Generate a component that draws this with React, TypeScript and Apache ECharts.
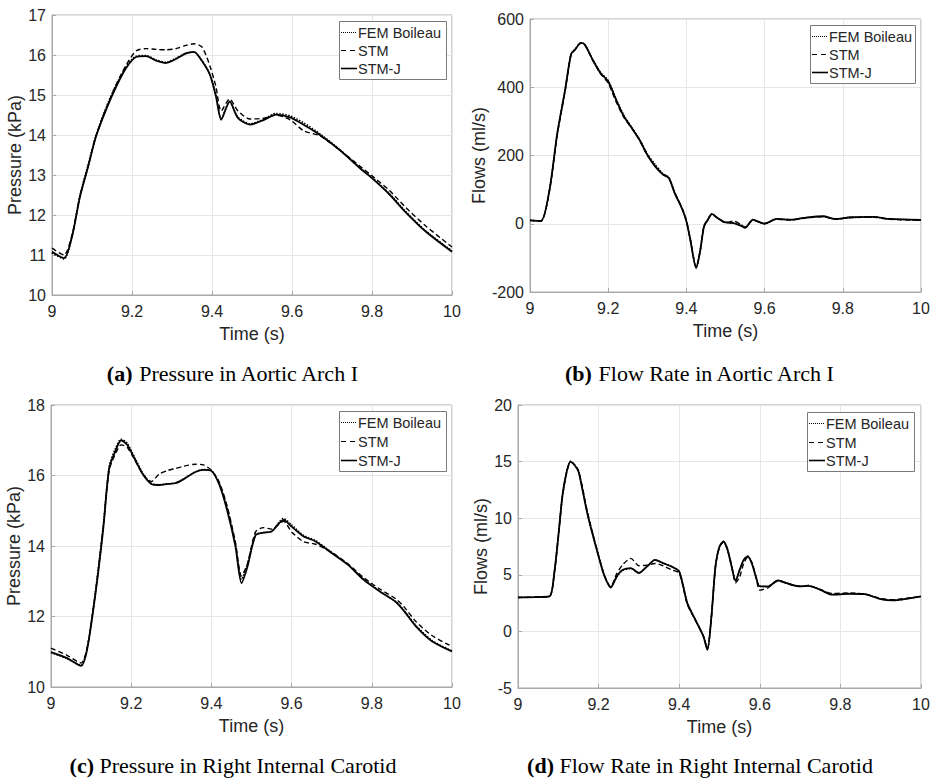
import React, { useEffect, useRef } from "react";
import * as echarts from "echarts";

// ---------- DATA ----------
const seriesNames = ["FEM Boileau", "STM", "STM-J"];

// (a) Pressure in Aortic Arch I
const tA = [9.0, 9.03, 9.05, 9.07, 9.09, 9.11, 9.135, 9.16, 9.185, 9.21, 9.235, 9.26, 9.285, 9.31, 9.335, 9.355, 9.375, 9.395, 9.41, 9.423, 9.444, 9.465, 9.495, 9.53, 9.56, 9.595, 9.63, 9.67, 9.72, 9.77, 9.8, 9.845, 9.885, 9.935, 10.0];
const femA = [11.05, 10.9, 11.45, 12.5, 13.25, 14.0, 14.68, 15.25, 15.7, 15.97, 15.99, 15.88, 15.82, 15.92, 16.05, 16.07, 15.86, 15.52, 15.0, 14.42, 14.82, 14.45, 14.28, 14.4, 14.54, 14.48, 14.3, 14.03, 13.63, 13.18, 12.94, 12.52, 12.08, 11.6, 11.1];
const stmA = [11.17, 11.0, 11.5, 12.48, 13.2, 13.98, 14.66, 15.25, 15.74, 16.1, 16.16, 16.14, 16.13, 16.16, 16.24, 16.28, 16.2, 15.72, 15.2, 14.6, 14.9, 14.6, 14.4, 14.42, 14.5, 14.38, 14.1, 13.98, 13.62, 13.22, 12.98, 12.6, 12.18, 11.72, 11.2];
const stmjA = [11.08, 10.92, 11.46, 12.46, 13.2, 13.96, 14.63, 15.2, 15.67, 15.95, 15.97, 15.86, 15.8, 15.9, 16.04, 16.08, 15.85, 15.5, 14.96, 14.38, 14.84, 14.42, 14.26, 14.38, 14.51, 14.44, 14.25, 14.0, 13.62, 13.17, 12.92, 12.5, 12.06, 11.58, 11.08];

// (b) Flow Rate in Aortic Arch I
const tB = [9.0, 9.028, 9.05, 9.07, 9.09, 9.105, 9.115, 9.13, 9.14, 9.16, 9.18, 9.2, 9.22, 9.24, 9.26, 9.28, 9.3, 9.32, 9.34, 9.355, 9.37, 9.39, 9.4, 9.41, 9.425, 9.435, 9.445, 9.455, 9.465, 9.48, 9.5, 9.52, 9.54, 9.55, 9.57, 9.6, 9.63, 9.67, 9.7, 9.75, 9.78, 9.82, 9.88, 9.92, 10.0];
const femB = [10, 8, 101, 268, 395, 498, 511, 530, 526, 482, 444, 420, 366, 318, 283, 248, 205, 174, 147, 136, 91, 42, 8, -46, -129, -82, -9, 11, 28, 16, 5, 3, -4, -11, 11, 0, 13, 12, 17, 21, 14, 18, 19, 14, 11];
const stmB = [10, 8, 98, 262, 390, 495, 510, 529, 524, 480, 440, 412, 358, 312, 280, 245, 200, 170, 146, 135, 92, 43, 9, -45, -128, -80, -6, 13, 28, 16, 3, 8, -3, -10, 10, 1, 13, 11, 16, 21, 13, 18, 19, 13, 10];
const stmjB = [10, 8, 100, 266, 393, 497, 510, 530, 525, 481, 442, 417, 364, 315, 281, 246, 202, 168, 144, 134, 90, 41, 7, -47, -130, -81, -8, 12, 29, 17, 4, 2, -6, -12, 12, 0, 14, 12, 17, 22, 14, 19, 20, 14, 11];

// (c) Pressure in Right Internal Carotid
const tC = [9.0, 9.04, 9.075, 9.09, 9.11, 9.13, 9.145, 9.16, 9.175, 9.19, 9.21, 9.23, 9.25, 9.27, 9.29, 9.31, 9.33, 9.36, 9.38, 9.4, 9.42, 9.44, 9.46, 9.475, 9.49, 9.51, 9.53, 9.55, 9.58, 9.6, 9.63, 9.66, 9.7, 9.74, 9.78, 9.82, 9.86, 9.88, 9.91, 9.95, 10.0];
const femC = [10.98, 10.8, 10.62, 11.1, 12.65, 14.55, 16.25, 16.75, 17.03, 16.92, 16.48, 16.05, 15.78, 15.74, 15.76, 15.79, 15.9, 16.1, 16.17, 16.14, 15.78, 15.05, 14.05, 13.05, 13.5, 14.32, 14.38, 14.42, 14.78, 14.6, 14.3, 14.15, 13.82, 13.48, 13.06, 12.72, 12.42, 12.18, 11.75, 11.32, 11.02];
const stmC = [11.1, 10.9, 10.68, 11.1, 12.6, 14.5, 16.15, 16.6, 16.87, 16.8, 16.42, 16.02, 15.83, 16.04, 16.14, 16.2, 16.26, 16.32, 16.3, 16.15, 15.8, 15.1, 14.1, 13.15, 13.5, 14.4, 14.52, 14.48, 14.7, 14.4, 14.12, 14.05, 13.82, 13.5, 13.1, 12.78, 12.5, 12.28, 11.86, 11.46, 11.15];
const stmjC = [10.99, 10.82, 10.6, 11.06, 12.57, 14.46, 16.2, 16.68, 17.0, 16.87, 16.44, 16.02, 15.76, 15.73, 15.76, 15.78, 15.89, 16.1, 16.16, 16.13, 15.73, 14.98, 13.99, 12.95, 13.42, 14.3, 14.38, 14.41, 14.74, 14.55, 14.27, 14.13, 13.8, 13.47, 13.04, 12.71, 12.41, 12.16, 11.72, 11.3, 11.01];

// (d) Flow Rate in Right Internal Carotid
const tD = [9.0, 9.04, 9.078, 9.09, 9.1, 9.11, 9.12, 9.13, 9.14, 9.15, 9.16, 9.17, 9.18, 9.2, 9.215, 9.23, 9.245, 9.26, 9.28, 9.3, 9.32, 9.34, 9.36, 9.38, 9.4, 9.42, 9.44, 9.46, 9.47, 9.48, 9.49, 9.5, 9.51, 9.52, 9.53, 9.54, 9.55, 9.56, 9.57, 9.58, 9.59, 9.6, 9.62, 9.645, 9.67, 9.7, 9.72, 9.75, 9.78, 9.82, 9.86, 9.9, 9.93, 9.96, 10.0];
const femD = [3.0, 3.03, 3.1, 5.2, 8.45, 11.95, 14.0, 15.02, 14.75, 14.2, 12.6, 10.85, 9.35, 6.65, 4.9, 3.9, 4.8, 5.4, 5.55, 5.2, 5.7, 6.3, 6.05, 5.75, 5.3, 2.55, 1.05, -0.4, -1.6, 1.4, 5.8, 7.5, 7.95, 7.25, 5.8, 4.5, 5.4, 6.3, 6.65, 6.1, 4.9, 4.0, 3.95, 4.5, 4.25, 4.0, 4.05, 3.7, 3.25, 3.35, 3.3, 2.85, 2.75, 2.85, 3.1];
const stmD = [3.0, 3.03, 3.09, 5.1, 8.3, 11.8, 13.9, 14.95, 14.75, 14.2, 12.7, 10.9, 9.4, 6.7, 4.9, 3.95, 5.1, 5.9, 6.45, 5.8, 5.85, 6.0, 5.8, 5.45, 5.15, 2.4, 1.0, -0.4, -1.55, 1.3, 5.7, 7.45, 7.9, 7.2, 5.8, 4.3, 4.8, 6.0, 6.55, 6.1, 4.9, 3.65, 3.85, 4.45, 4.2, 4.0, 4.05, 3.7, 3.35, 3.4, 3.3, 2.9, 2.8, 2.9, 3.1];
const stmjD = [3.0, 3.03, 3.09, 5.15, 8.38, 11.9, 13.97, 15.0, 14.7, 14.12, 12.5, 10.74, 9.26, 6.62, 4.85, 3.88, 4.85, 5.44, 5.59, 5.15, 5.74, 6.32, 6.03, 5.74, 5.29, 2.5, 1.03, -0.44, -1.62, 1.32, 5.74, 7.5, 7.94, 7.2, 5.74, 4.45, 5.44, 6.32, 6.62, 6.03, 4.85, 3.97, 3.97, 4.5, 4.21, 3.97, 4.03, 3.68, 3.24, 3.32, 3.29, 2.85, 2.74, 2.85, 3.09];

const xTicks = { min: 9, max: 10, interval: 0.2 };
const yAxesDef = [
  { name: "Pressure (kPa)", min: 10, max: 17, interval: 1 },
  { name: "Flows (ml/s)", min: -200, max: 600, interval: 200 },
  { name: "Pressure (kPa)", min: 10, max: 18, interval: 2 },
  { name: "Flows (ml/s)", min: -5, max: 20, interval: 5 },
];
const captions = [
  ["(a)", "Pressure in Aortic Arch I"],
  ["(b)", "Flow Rate in Aortic Arch I"],
  ["(c)", "Pressure in Right Internal Carotid"],
  ["(d)", "Flow Rate in Right Internal Carotid"],
];

const panels = [
  { t: tA, vals: [femA, stmA, stmjA] },
  { t: tB, vals: [femB, stmB, stmjB] },
  { t: tC, vals: [femC, stmC, stmjC] },
  { t: tD, vals: [femD, stmD, stmjD] },
];

// ---------- LAYOUT ----------
const grids = [
  { left: 52, top: 15, width: 400, height: 280 },
  { left: 530, top: 19, width: 391, height: 273 },
  { left: 51, top: 405, width: 401, height: 282 },
  { left: 518, top: 405, width: 403, height: 283 },
];
const yNameGaps = [26, 40, 27, 28];
const legendBoxes = [
  { x: 339, y: 21, w: 107, h: 58 },
  { x: 810, y: 25, w: 105, h: 58 },
  { x: 339, y: 411, w: 107, h: 60 },
  { x: 807, y: 412, w: 107, h: 59 },
];
const captionPos = [
  { x: 233, y: 373 },
  { x: 700, y: 373 },
  { x: 233, y: 765 },
  { x: 700, y: 765 },
];

const SANS = "Liberation Sans, Arial, sans-serif";
const SERIF = "Liberation Serif, Times New Roman, serif";
const TXT = "#262626";
const AXIS = "#a8a8a8";
const GRIDLINE = "#e6e6e6";

const lineStyles = [
  { color: "#000", width: 1.5, type: "dotted" },
  { color: "#000", width: 1.4, type: [5, 3] },
  { color: "#000", width: 1.8, type: "solid" },
];
const legendDash = [[1, 1], [5, 4], null];
const legendWidth = [1, 1.2, 1.6];

export default function App() {
  const ref = useRef<HTMLDivElement>(null);
  useEffect(() => {
    if (!ref.current) return;
    const chart = echarts.init(ref.current, undefined, { renderer: "svg" });

    const xAxis = grids.map((_, i) => ({
      type: "value",
      gridIndex: i,
      min: xTicks.min,
      max: xTicks.max,
      interval: xTicks.interval,
      name: "Time (s)",
      nameLocation: "middle",
      nameGap: 30,
      nameTextStyle: { fontSize: 18, color: TXT, fontFamily: SANS },
      axisLine: { show: true, onZero: false, lineStyle: { color: AXIS, width: 1 } },
      axisTick: { show: true, inside: true, length: 4, lineStyle: { color: AXIS } },
      axisLabel: { fontSize: 16, color: TXT, fontFamily: SANS, margin: 8 },
      splitLine: { show: true, lineStyle: { color: GRIDLINE, width: 1 } },
    }));

    const yAxis = yAxesDef.map((d, i) => ({
      type: "value",
      gridIndex: i,
      min: d.min,
      max: d.max,
      interval: d.interval,
      name: d.name,
      nameLocation: "middle",
      nameGap: yNameGaps[i],
      nameTextStyle: { fontSize: 18, color: TXT, fontFamily: SANS },
      axisLine: { show: true, onZero: false, lineStyle: { color: AXIS, width: 1 } },
      axisTick: { show: true, inside: true, length: 4, lineStyle: { color: AXIS } },
      axisLabel: { fontSize: 16, color: TXT, fontFamily: SANS, margin: 6 },
      splitLine: { show: true, lineStyle: { color: GRIDLINE, width: 1 } },
    }));

    const series: any[] = [];
    panels.forEach((p, i) => {
      p.vals.forEach((v, k) => {
        series.push({
          type: "line",
          name: seriesNames[k],
          xAxisIndex: i,
          yAxisIndex: i,
          data: p.t.map((t, j) => [t, v[j]]),
          showSymbol: false,
          symbol: "none",
          smooth: 0.25,
          lineStyle: lineStyles[k],
          itemStyle: { color: "#000" },
          z: 2 + k,
        });
      });
    });

    const graphic: any[] = [];
    legendBoxes.forEach((b) => {
      graphic.push({
        type: "rect",
        z: 100,
        shape: { x: b.x + 0.5, y: b.y + 0.5, width: b.w, height: b.h },
        style: { fill: "#fff", stroke: "#7a7a7a", lineWidth: 1 },
      });
      const rowGap = (b.h - 4) / 3;
      seriesNames.forEach((nm, k) => {
        const cy = Math.round(b.y + 2 + rowGap * (k + 0.5)) + 0.5;
        graphic.push({
          type: "line",
          z: 101,
          shape: { x1: b.x + 2, y1: cy, x2: b.x + 18, y2: cy },
          style: {
            stroke: "#000",
            lineWidth: legendWidth[k],
            lineDash: legendDash[k] || undefined,
          },
        });
        graphic.push({
          type: "text",
          z: 101,
          x: b.x + 19,
          y: cy,
          style: {
            text: nm,
            fontSize: 14.5,
            fontFamily: SANS,
            fill: TXT,
            textAlign: "left",
            textVerticalAlign: "middle",
          },
        });
      });
    });

    captions.forEach((c, i) => {
      graphic.push({
        type: "text",
        x: captionPos[i].x,
        y: captionPos[i].y,
        style: {
          text: `{b|${c[0]}} ${c[1]}`,
          rich: {
            b: { fontWeight: "bold", fontSize: 22, fontFamily: SERIF, fill: "#000" },
          },
          fontSize: 22,
          fontFamily: SERIF,
          fill: "#000",
          textAlign: "center",
          textVerticalAlign: "middle",
        },
      });
    });

    chart.setOption({
      animation: false,
      backgroundColor: "#fff",
      grid: grids.map((g) => ({ ...g, show: true, borderColor: AXIS, borderWidth: 1, backgroundColor: "transparent" })),
      xAxis,
      yAxis,
      series,
      graphic,
    } as any);

    return () => chart.dispose();
  }, []);

  return (
    <div
      ref={ref}
      style={{ position: "fixed", left: 0, top: 0, width: 934, height: 780, background: "#fff" }}
    />
  );
}
